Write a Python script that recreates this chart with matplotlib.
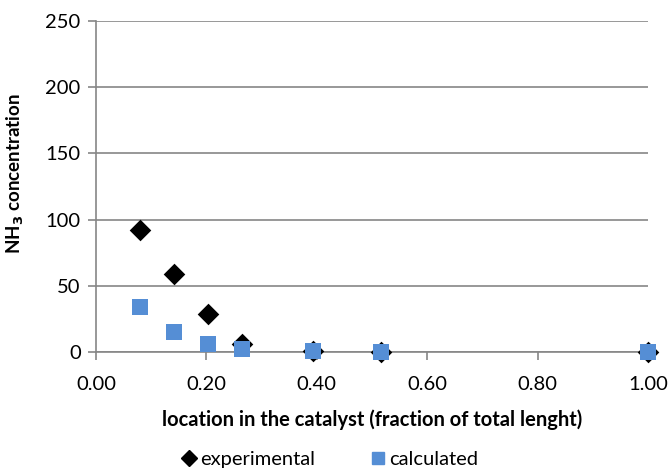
import matplotlib
matplotlib.use('Agg')
import matplotlib.pyplot as plt
from matplotlib.lines import Line2D

plt.rcParams['font.family'] = ['Lato', 'DejaVu Sans']

# location along the catalyst bed (fraction of total length)
x_exp = [0.08, 0.141, 0.203, 0.265, 0.393, 0.516, 1.00]
nh3_exp = [92, 59, 29, 6, 0.5, 0, 0]

x_calc = [0.08, 0.141, 0.203, 0.265, 0.393, 0.516, 1.00]
nh3_calc = [34, 15, 6.5, 2.5, 0.5, 0.3, 0]

xticks = [0.0, 0.2, 0.4, 0.6, 0.8, 1.0]
yticks = [0, 50, 100, 150, 200, 250]

grey = '#868686'
blue = '#558ED5'

fig = plt.figure(figsize=(6.69, 4.72), dpi=100)
ax = fig.add_axes([0.1435, 0.254, 0.825, 0.7015])

ax.scatter(x_exp, nh3_exp, marker='D', s=11**2, color='black', zorder=3,
           linewidths=0, clip_on=False)
ax.scatter(x_calc, nh3_calc, marker='s', s=11.3**2, color=blue, zorder=4,
           linewidths=0, clip_on=False)

ax.set_xlim(0, 1.0)
ax.set_ylim(0, 250)
ax.set_xticks(xticks)
ax.set_xticklabels(['%.2f' % t for t in xticks])
ax.set_yticks(yticks)

ax.yaxis.grid(True, color=grey, linewidth=1.2)
ax.set_axisbelow(True)
for side in ['top', 'right']:
    ax.spines[side].set_visible(False)
for side in ['left', 'bottom']:
    ax.spines[side].set_color(grey)
    ax.spines[side].set_linewidth(1.2)

ax.tick_params(axis='both', direction='out', length=6, width=1.2, color=grey,
               labelsize=14.5, labelcolor='black')
ax.tick_params(axis='x', pad=11)
ax.tick_params(axis='y', pad=5)

ax.set_xlabel('location in the catalyst (fraction of total lenght)',
              fontsize=14.5, fontweight='bold', labelpad=12)
ax.set_ylabel('NH$_\\mathbf{3}$ concentration', fontsize=13.5, fontweight='bold',
              va='center')
ax.yaxis.set_label_coords(-0.146, 0.54)

handles = [
    Line2D([], [], marker='D', color='black', linestyle='none', markersize=8),
    Line2D([], [], marker='s', color=blue, linestyle='none', markersize=9),
]
fig.legend(handles, ['experimental', 'calculated'], loc='center',
           bbox_to_anchor=(0.49, 0.026), ncol=2, frameon=False, fontsize=14.5,
           handletextpad=0.0, columnspacing=2.6, handlelength=1.1)

plt.savefig('out.png', dpi=100)
